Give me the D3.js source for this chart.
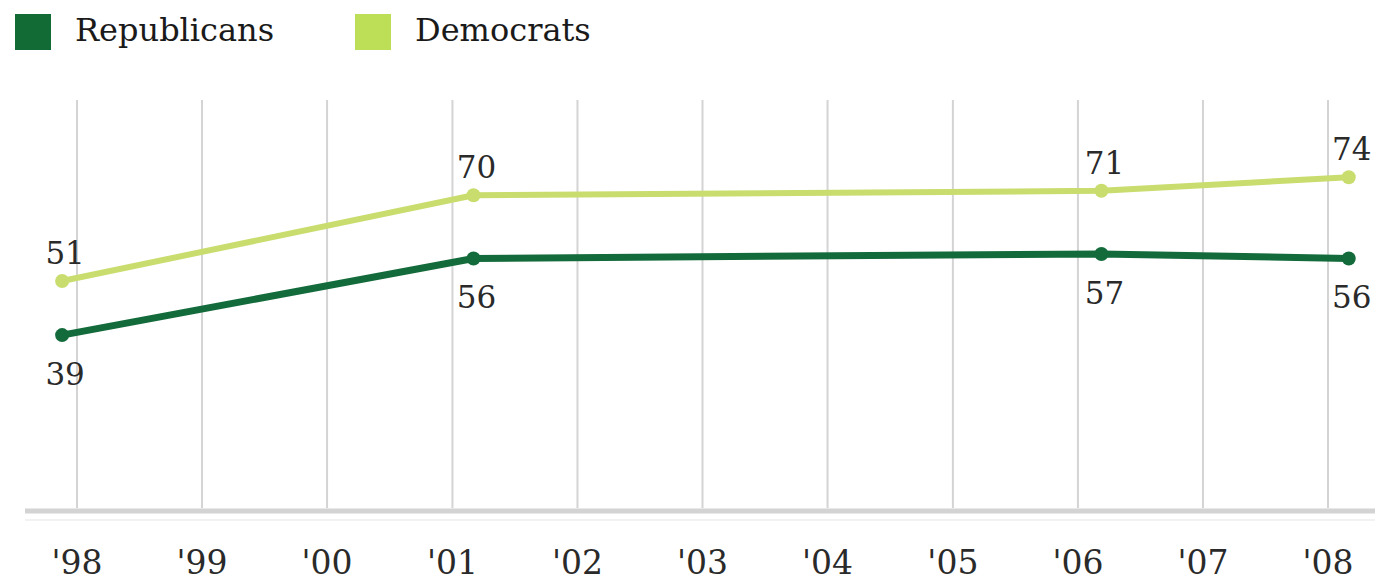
<!DOCTYPE html>
<html>
<head>
<meta charset="utf-8">
<script src="https://cdn.jsdelivr.net/npm/d3@7"></script>
<style>
  body { margin: 0; background: #fff; }
  svg { display: block; }
  text { font-family: "DejaVu Serif", "Liberation Serif", serif; }
</style>
</head>
<body>
<script>
// survey dates (points sit a little off the year gridlines) and values
var pointDates = ["1997-11-20", "2001-03-05", "2006-03-12", "2008-03-03"];
var republicans = [39, 56, 57, 56];
var democrats = [51, 70, 71, 74];
var yearTicks = [1998, 1999, 2000, 2001, 2002, 2003, 2004, 2005, 2006, 2007, 2008];
var tickLabels = ["'98", "'99", "'00", "'01", "'02", "'03", "'04", "'05", "'06", "'07", "'08"];
var seriesNames = ["Republicans", "Democrats"];
var seriesColors = ["#136b3b", "#c8dd6e"];

var svgWidth = 1375;
var svgHeight = 586;

var parseDate = d3.timeParse("%Y-%m-%d");

var svg = d3.select("body")
  .append("svg")
  .attr("width", svgWidth)
  .attr("height", svgHeight);

// scales
var x = d3.scaleTime()
  .domain([new Date(1998, 0, 1), new Date(2008, 0, 1)])
  .range([76.5, 1327.5]);

var y = d3.scaleLinear()
  .domain([0, 100])
  .range([511, 60]);

// x axis with full-height gridlines
var xAxis = d3.axisBottom(x)
  .tickValues(yearTicks.map(function(yr) { return new Date(yr, 0, 1); }))
  .tickFormat(function(d, i) { return tickLabels[i]; })
  .tickSizeInner(-(508 - 100))
  .tickSizeOuter(0);

var axisG = svg.append("g")
  .attr("transform", "translate(0,508)")
  .call(xAxis);

axisG.select(".domain").remove();
axisG.selectAll(".tick line")
  .attr("stroke", "#d4d4d4")
  .attr("stroke-width", 2);
axisG.selectAll(".tick text")
  .attr("y", 66)
  .attr("dy", 0)
  .attr("fill", "#2a2a2a")
  .attr("font-size", 33)
  .attr("font-family", "DejaVu Serif");

// baseline
svg.append("line")
  .attr("x1", 25).attr("x2", svgWidth)
  .attr("y1", 511).attr("y2", 511)
  .attr("stroke", "#d3d3d3")
  .attr("stroke-width", 5);
svg.append("line")
  .attr("x1", 25).attr("x2", svgWidth)
  .attr("y1", 520).attr("y2", 520)
  .attr("stroke", "#f2f2f2")
  .attr("stroke-width", 2);

// build series
var series = [republicans, democrats].map(function(vals, i) {
  return {
    name: seriesNames[i],
    color: seriesColors[i],
    points: vals.map(function(v, j) { return { date: parseDate(pointDates[j]), value: v }; })
  };
});

var line = d3.line()
  .x(function(d) { return x(d.date); })
  .y(function(d) { return y(d.value); });

// democrats drawn first so republicans sit on top
[1, 0].forEach(function(si) {
  var s = series[si];
  var g = svg.append("g");
  g.append("path")
    .datum(s.points)
    .attr("fill", "none")
    .attr("stroke", s.color)
    .attr("stroke-width", si === 0 ? 7 : 6)
    .attr("stroke-linejoin", "round")
    .attr("d", line);
  g.selectAll("circle")
    .data(s.points)
    .enter()
    .append("circle")
    .attr("cx", function(d) { return x(d.date); })
    .attr("cy", function(d) { return y(d.value); })
    .attr("r", 7)
    .attr("fill", s.color);
  g.selectAll("text")
    .data(s.points)
    .enter()
    .append("text")
    .attr("x", function(d) { return x(d.date) + 3; })
    .attr("y", function(d) { return si === 0 ? y(d.value) + 50 : y(d.value) - 17; })
    .attr("text-anchor", "middle")
    .attr("fill", "#2a2a2a")
    .attr("font-size", 31)
    .text(function(d) { return d.value; });
});

// legend
var legendX = [15, 355];
var legend = svg.selectAll(".legend")
  .data(series)
  .enter()
  .append("g")
  .attr("class", "legend")
  .attr("transform", function(d, i) { return "translate(" + legendX[i] + ",14)"; });

legend.append("rect")
  .attr("width", 36)
  .attr("height", 36)
  .attr("fill", function(d, i) { return i === 0 ? "#126b34" : "#bddf58"; });

legend.append("text")
  .attr("x", 60)
  .attr("y", 27)
  .attr("fill", "#1a1a1a")
  .attr("font-size", 32)
  .text(function(d) { return d.name; });
</script>
</body>
</html>
